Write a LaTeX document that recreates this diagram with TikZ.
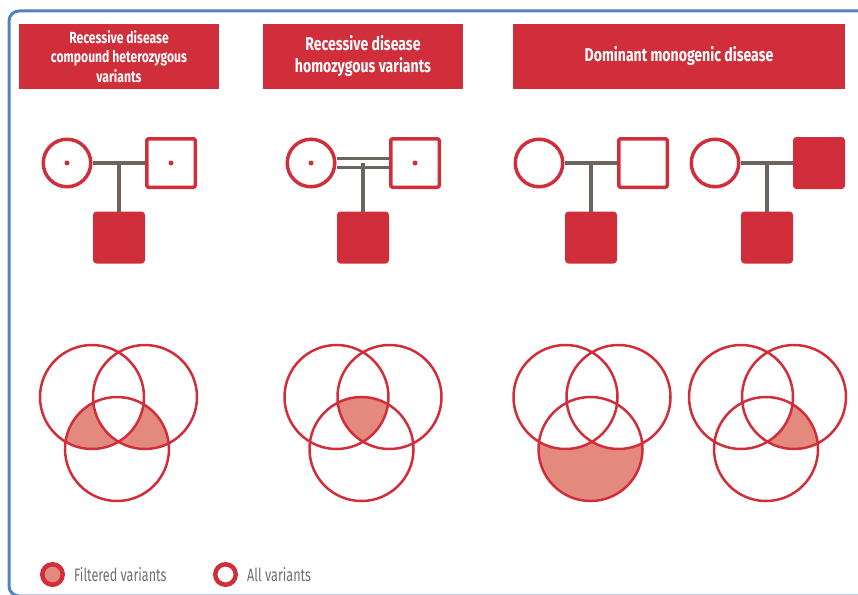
\documentclass[tikz,border=0pt]{standalone}
\usepackage{fontspec}
\usepackage{tikz}
\usetikzlibrary{calc}
\newfontfamily\headfont[FakeStretch=0.76]{Fira Sans}
\newfontfamily\legendfont[FakeStretch=0.7]{Fira Sans}
\definecolor{pedred}{HTML}{D12E3B}
\definecolor{vennfill}{HTML}{E4897D}
\definecolor{bondgrey}{HTML}{6B655F}
\definecolor{frameblue}{HTML}{4E85BD}
\definecolor{legendgrey}{HTML}{707070}

\begin{document}
\begin{tikzpicture}[x=1pt,y=-1pt,
    header/.style={fill=pedred,text=white,align=center,inner sep=0pt,minimum height=65pt},
    female/.style={circle,draw=pedred,line width=3.5pt,minimum size=47.5pt,inner sep=0pt},
    male/.style={rectangle,draw=pedred,line width=3.5pt,minimum size=48.5pt,rounded corners=2pt,inner sep=0pt},
    malefill/.style={male,fill=pedred},
    carrier/.style={circle,fill=pedred,minimum size=5pt,inner sep=0pt},
    bond/.style={draw=bondgrey,line width=3.5pt},
    venn/.style={draw=pedred,line width=2.5pt},
    keybox/.style={circle,draw=pedred,line width=4.5pt,minimum size=20.5pt,inner sep=0pt},
    legend/.style={anchor=west,inner sep=0pt,text=legendgrey,font=\legendfont\fontsize{18}{21}\selectfont}
    ]
    \useasboundingbox (0,0) rectangle (858,594);
    \draw [frameblue, line width=3pt, rounded corners=10pt] (9,11) rectangle (875,596);

    % headers
    \node [header, minimum width=200pt, font=\headfont\bfseries\fontsize{16}{19.5}\selectfont] (h1) at (119,56.5) {Recessive disease\\compound heterozygous\\variants};
    \node [header, minimum width=200pt, font=\headfont\bfseries\fontsize{18.5}{22}\selectfont] (h2) at (363,56.5) {\rule{0pt}{8pt}Recessive disease\\homozygous variants};
    \node [header, minimum width=332pt, font=\headfont\bfseries\fontsize{18.5}{22}\selectfont] (h3) at (679,56.5) {Dominant monogenic disease};

    % pedigrees
    \foreach \g/\mx/\fs in {1/67/male,2/311/male,3/539/male,4/715/malefill}
    {
        \node [female] (m\g) at (\mx,163) {};
        \node [\fs] (f\g) at (\mx+104,163) {};
        \node [malefill] (c\g) at (\mx+52,237.5) {};
        \coordinate (j\g) at ($(m\g.east)!0.5!(f\g.west)$);
    }
    \draw [bond] (m1) -- (f1);
    \draw [bond, double=white, double distance=5.5pt] (m2) -- (f2);
    \draw [bond] (m3) -- (f3);
    \draw [bond] (m4) -- (f4);
    \foreach \g in {1,...,4}
        \draw [bond] (j\g) -- (j\g |- c\g.north);
    \node [carrier] (dm1) at (m1) {};
    \node [carrier] (df1) at (f1) {};
    \node [carrier] (dm2) at (m2) {};
    \node [carrier] (df2) at (f2) {};

    % venn diagrams
    \foreach \g/\vx in {1/118.5,2/363,3/592,4/767.5}
    {
        \coordinate (va\g) at (\vx-26.5,397);
        \coordinate (vb\g) at (\vx+26.5,397);
        \coordinate (vc\g) at (\vx-1.5,449);
    }
    \begin{scope}
        \clip (vc1) circle (52pt);
        \fill [vennfill, even odd rule] (va1) circle (52pt) (vb1) circle (52pt);
    \end{scope}
    \begin{scope}
        \clip (va2) circle (52pt);
        \clip (vb2) circle (52pt);
        \fill [vennfill] (vc2) circle (52pt);
    \end{scope}
    \fill [vennfill] (vc3) circle (52pt);
    \fill [white] (va3) circle (52pt) (vb3) circle (52pt);
    \begin{scope}
        \clip (vb4) circle (52pt);
        \fill [vennfill] (vc4) circle (52pt);
        \fill [white] (va4) circle (52pt);
    \end{scope}
    \foreach \g in {1,...,4}
        \draw [venn] (va\g) circle (52pt) (vb\g) circle (52pt) (vc\g) circle (52pt);

    % legend
    \node [keybox, fill=vennfill] (kf) at (52.5,574.5) {};
    \node [legend] (kft) at (74,574.5) {Filtered variants};
    \node [keybox] (ka) at (225.5,574.5) {};
    \node [legend] (kat) at (247,574.5) {All variants};
\end{tikzpicture}
\end{document}
